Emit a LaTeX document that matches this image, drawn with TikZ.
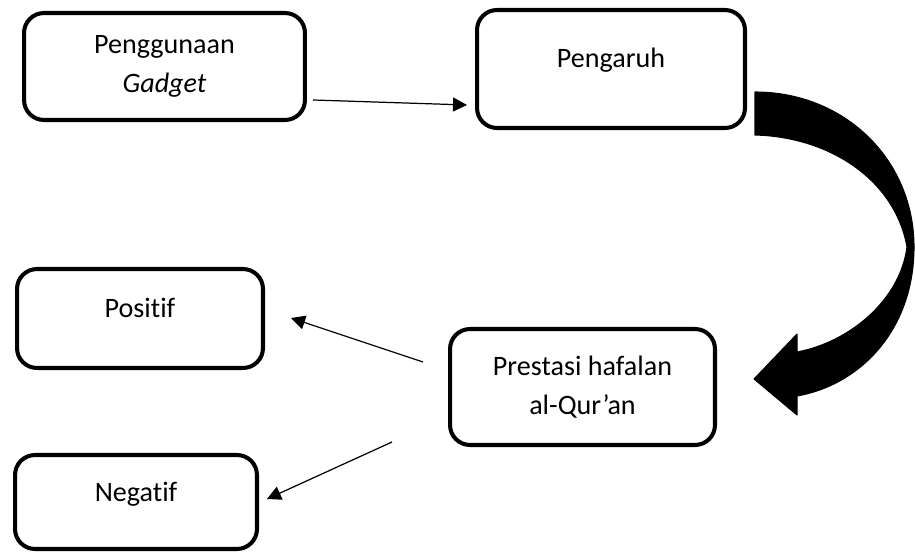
\documentclass[tikz,border=0pt]{standalone}
\usepackage{fontspec}
\setmainfont{Carlito}[Ligatures=NoCommon]
\usetikzlibrary{arrows.meta}

\begin{document}
\begin{tikzpicture}[
  x=0.02cm, y=-0.02cm,
  flowbox/.style={draw, line width=2.3pt, rounded corners=0.4cm, align=center,
    font=\fontsize{16}{22}\selectfont},
  topbox/.style={flowbox, text height=0.4cm, text depth=0.44cm},
  link/.style={line width=0.7pt, -{Triangle[length=0.28cm, width=0.28cm]}},
  bigarrow/.style={fill=black, draw=black, line width=0.6pt, line join=round}
]
\useasboundingbox (0,0) rectangle (915,553);

% Boxes
\node[flowbox, minimum width=5.62cm, minimum height=2.14cm] (gadget) at (164.5,66.5) {Penggunaan\\\textit{Gadget}};
\node[topbox, minimum width=5.36cm, minimum height=2.36cm] (pengaruh) at (611,69) {Pengaruh};
\node[flowbox, minimum width=5.3cm, minimum height=2.32cm] (prestasi) at (582.5,387) {Prestasi hafalan\\al-Qur’an};
\node[topbox, minimum width=4.92cm, minimum height=1.98cm] (positif) at (140,318.5) {Positif};
\node[topbox, minimum width=4.84cm, minimum height=1.88cm] (negatif) at (136,502) {Negatif};

% Free ends of the thin arrows
\coordinate (gadget-out) at (313,100);
\coordinate (pengaruh-in) at (467,105);
\coordinate (prestasi-up) at (423,362);
\coordinate (positif-in) at (291,318);
\coordinate (prestasi-down) at (392,442);
\coordinate (negatif-in) at (267,499);

\draw[link] (gadget-out) -- (pengaruh-in);
\draw[link] (prestasi-up) -- (positif-in);
\draw[link] (prestasi-down) -- (negatif-in);

% Curved block arrow: Pengaruh -> Prestasi
\filldraw[bigarrow] (755,92) .. controls (845,92) and (914,160) .. (914,247)
  .. controls (914,330) and (860,385) .. (797,396)
  -- (797,415) -- (754,379) -- (797,334) -- (797,352)
  .. controls (850,342) and (900,300) .. (907,247)
  .. controls (895,180) and (830,137) .. (755,135) -- cycle;

\end{tikzpicture}
\end{document}
